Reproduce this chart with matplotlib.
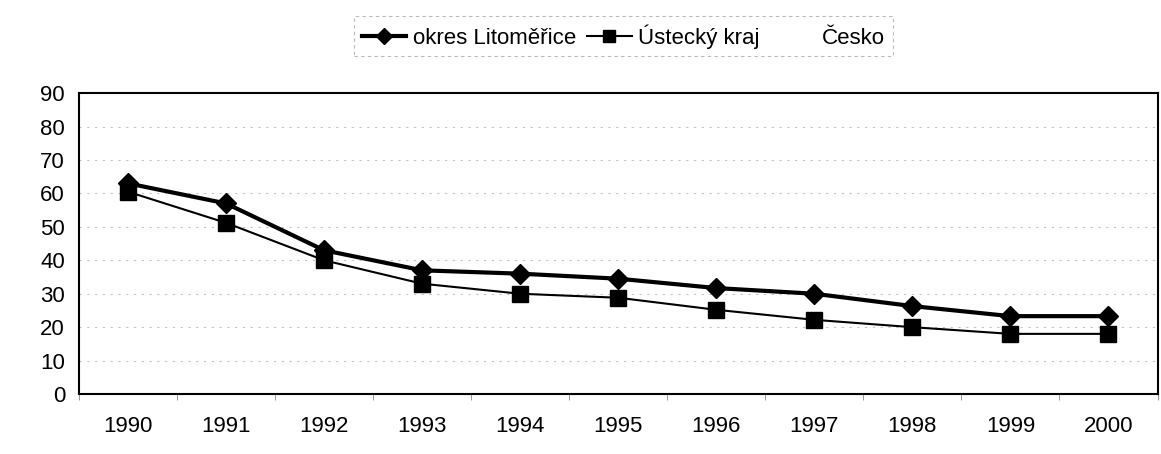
import numpy as np
import matplotlib.pyplot as plt
from matplotlib.lines import Line2D

# data
years = ['1990', '1991', '1992', '1993', '1994', '1995', '1996', '1997', '1998', '1999', '2000']
litomerice = [63, 57, 43, 37, 36, 34.5, 31.7, 30, 26.3, 23.3, 23.3]
ustecky = [60.5, 51.2, 40, 33, 30, 28.8, 25.2, 22.2, 20, 18, 18]

plt.rcParams['font.family'] = ['Liberation Sans', 'DejaVu Sans']

fig = plt.figure(figsize=(11.61, 4.54), dpi=100)
ax = fig.add_axes([0.068, 0.132, 0.929, 0.663])

x = np.arange(len(years))
ax.plot(x, litomerice, color='black', lw=3, marker='D', ms=10, label='okres Litoměřice')
ax.plot(x, ustecky, color='black', lw=1.5, marker='s', ms=11, label='Ústecký kraj')

ax.set_xlim(-0.5, len(years) - 0.5)
ax.set_ylim(0, 90)
ax.set_yticks(np.arange(0, 91, 10))
ax.set_xticks(x)
ax.set_xticklabels(years)
ax.set_xticks(np.arange(-0.5, len(years), 1), minor=True)
ax.tick_params(axis='x', which='major', length=0, pad=16, labelsize=16)
ax.tick_params(axis='x', which='minor', length=4, direction='out', color='#888888')
ax.tick_params(axis='y', length=0, pad=10, labelsize=16)

ax.grid(axis='y', color='#c4c4c4', lw=0.8, ls=(0, (2, 5)))
for s in ax.spines.values():
    s.set_color('black')
    s.set_linewidth(1.5)

# Česko has no visible line in the chart, only the legend entry
cesko = Line2D([], [], color='none', label='Česko')
handles, labels = ax.get_legend_handles_labels()
leg = fig.legend(handles + [cesko], labels + ['Česko'], loc='center', bbox_to_anchor=(0.537, 0.92),
                 ncol=3, fontsize=16, frameon=True, fancybox=False, handlelength=2.0,
                 handletextpad=0.3, columnspacing=0.5, borderpad=0.35, markerscale=0.8)
leg.get_frame().set_edgecolor('#aaaaaa')
leg.get_frame().set_linestyle((0, (3, 3)))
leg.get_frame().set_linewidth(0.8)

fig.savefig('out.png', dpi=100)
